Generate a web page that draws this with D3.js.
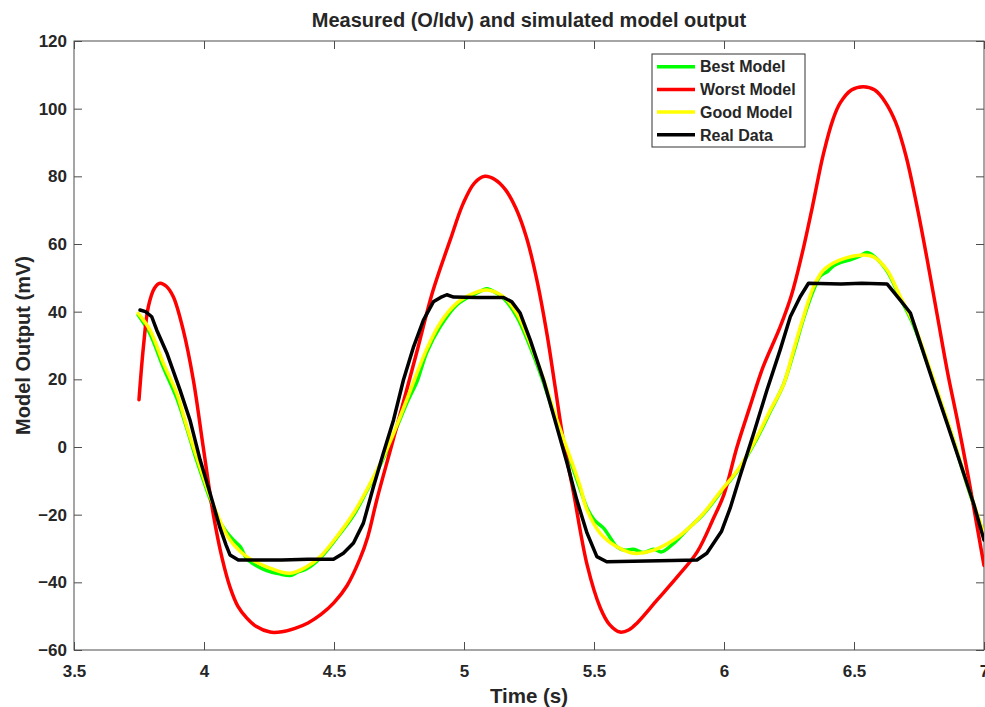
<!DOCTYPE html>
<html>
<head>
    <meta charset="utf-8">
    <script src="https://d3js.org/d3.v7.min.js"></script>
    <style>
        body { margin: 0; background: #fff; }
        text { font-family: "Liberation Sans", Arial, sans-serif; font-weight: bold; fill: #262626; }
    </style>
</head>
<body>
<div id="chart"></div>
<script>
    // series data (time in s, output in mV)
    const bestT = [3.747,3.792,3.844,3.895,3.934,3.972,4.01,4.049,4.085,4.113,4.14,4.164,4.2,4.241,4.29,4.331,4.36,4.395,4.447,4.511,4.575,4.626,4.677,4.729,4.78,4.82,4.835,4.857,4.908,4.972,5.036,5.088,5.1,5.152,5.203,5.255,5.306,5.357,5.408,5.447,5.473,5.5,5.537,5.56,5.588,5.62,5.652,5.69,5.729,5.76,5.806,5.857,5.921,5.986,6.062,6.127,6.178,6.229,6.268,6.306,6.345,6.37,6.4,6.42,6.447,6.49,6.524,6.55,6.575,6.627,6.678,6.729,6.78,6.832,6.883,6.934,6.986,7.0];
    const bestV = [39,33.5,23.5,14.5,5.5,-4,-12.5,-20.5,-25,-27.5,-29.5,-33,-35,-36.5,-37.5,-38,-37,-36,-32.8,-26.8,-20.2,-13,-5.5,3.5,13,19.5,23,28,35.5,42,45,46.8,46.5,44,38.5,29.5,19,7,-4,-12.5,-18,-21.5,-24,-26.5,-29.5,-30.5,-30.2,-31.2,-30.2,-31,-28.5,-24.5,-19.8,-13.5,-6,2.5,10.5,18.5,28,38,46.5,50.5,52,53.5,54.5,55.5,56.5,57.5,56.5,52,44,36,25.2,13.4,1.8,-11,-23,-26.5];

    const worstT = [3.75,3.767,3.786,3.81,3.831,3.855,3.882,3.92,3.959,3.997,4.036,4.07,4.1,4.13,4.164,4.2,4.254,4.3,4.35,4.4,4.45,4.5,4.55,4.6,4.63,4.665,4.72,4.78,4.82,4.88,4.947,4.997,5.04,5.08,5.12,5.16,5.2,5.24,5.28,5.32,5.35,5.382,5.42,5.474,5.524,5.56,5.6,5.635,5.666,5.743,5.82,5.897,5.96,6.0,6.05,6.1,6.15,6.216,6.26,6.3,6.34,6.382,6.42,6.447,6.49,6.536,6.58,6.62,6.66,6.7,6.74,6.78,6.82,6.86,6.9,6.94,6.97,7.0];
    const worstV = [14,29.6,41.5,47,48.4,47.5,44.4,34.6,19.8,0,-20,-33,-41.4,-47,-50.5,-53,-54.7,-54.6,-53.6,-52,-49.5,-46,-41,-33,-26.5,-15.5,0,17,28.5,46,61.2,72,78,80,79,76,70.5,62,49.5,33,18,2,-13,-35,-47.5,-52.5,-54.7,-54,-52,-45.2,-38.4,-31,-21,-14,0,12,23.6,35.5,45,57,71,86.5,97,101.7,105.5,106.5,105.5,102,96,86,72,56,39,22,7,-9,-22,-35];

    const goodT = [3.747,3.792,3.844,3.895,3.934,3.972,4.01,4.049,4.1,4.164,4.241,4.331,4.395,4.447,4.511,4.575,4.626,4.677,4.729,4.78,4.857,4.908,4.972,5.036,5.088,5.152,5.203,5.255,5.306,5.357,5.408,5.447,5.473,5.524,5.588,5.652,5.729,5.806,5.857,5.921,5.986,6.062,6.127,6.178,6.229,6.268,6.306,6.345,6.383,6.447,6.524,6.575,6.627,6.678,6.729,6.78,6.832,6.883,6.934,6.986,7.0];
    const goodV = [39.5,34.6,24.7,15.9,6,-3,-11.7,-19.6,-27.5,-32.4,-35.4,-37.3,-35.4,-32.4,-26.5,-19.6,-12.7,-5,4,14,29,36.6,42.5,45.4,46.4,44.4,39.5,30.6,20,8,-3,-11.7,-18.6,-25.5,-29.5,-31.4,-30.5,-27.5,-24.5,-19.6,-13.2,-5.8,3,10.9,18.5,28.7,38.5,47.4,52.3,55.3,56.7,56.2,52.3,44.4,36.6,25.7,13.9,2.1,-10.7,-22.6,-26];

    const realT = [3.754,3.775,3.799,3.818,3.857,3.908,3.946,3.985,4.023,4.062,4.085,4.1,4.132,4.3,4.4,4.498,4.536,4.575,4.613,4.652,4.69,4.729,4.767,4.806,4.844,4.882,4.91,4.934,4.96,5.05,5.152,5.184,5.216,5.255,5.306,5.357,5.396,5.434,5.473,5.511,5.549,5.7,5.85,5.896,5.934,5.99,6.024,6.062,6.114,6.165,6.216,6.255,6.293,6.325,6.45,6.53,6.627,6.678,6.717,6.755,6.806,6.858,6.909,6.96,7.0];
    const realV = [40.5,40,38.5,34.6,27.8,16.8,8,-3.8,-13.6,-24,-29,-31.9,-33.4,-33.4,-33.2,-33.2,-31.4,-28.4,-22.5,-11.7,-1.8,8,19.8,29.6,37.5,42.9,44.2,45,44.3,44.2,44.2,42.9,39.6,31.6,19.8,6,-4.7,-15.7,-25.4,-32.4,-33.9,-33.7,-33.5,-33.4,-31.4,-25,-18,-8.5,4,16.8,28.7,38.5,44.4,48.4,48.2,48.4,48.2,43.4,39.6,30.7,18.8,7,-4.8,-16.7,-27.5];

    const seriesNames = ['Best Model', 'Worst Model', 'Good Model', 'Real Data'];
    const seriesColors = ['#00ff00', '#ff0000', '#ffff00', '#000000'];
    const xTicks = [3.5, 4, 4.5, 5, 5.5, 6, 6.5, 7];
    const yTicks = [-60, -40, -20, 0, 20, 40, 60, 80, 100, 120];

    const width = 985;
    const height = 707;
    const margin = {top: 41, right: 1, bottom: 57, left: 74};

    const svg = d3.create('svg')
        .attr('width', width)
        .attr('height', height);

    const xScale = d3.scaleLinear()
        .domain([3.5, 7])
        .range([margin.left, width - margin.right]);

    const yScale = d3.scaleLinear()
        .domain([-60, 120])
        .range([height - margin.bottom, margin.top]);

    const series = [
        {t: bestT, v: bestV, smooth: true},
        {t: worstT, v: worstV, smooth: true},
        {t: goodT, v: goodV, smooth: true},
        {t: realT, v: realV, smooth: false}
    ];

    // axes, ticks inside the box on all four sides
    const styleAxis = g => {
        g.select('.domain').remove();
        g.selectAll('.tick line').attr('stroke', '#4d4d4d').attr('stroke-width', 1);
        g.selectAll('.tick text').attr('font-size', '17px').attr('fill', '#262626')
            .attr('font-family', '"Liberation Sans", Arial, sans-serif').attr('font-weight', 'bold');
    };

    svg.append('g')
        .attr('transform', `translate(0, ${height - margin.bottom})`)
        .call(d3.axisBottom(xScale).tickValues(xTicks).tickFormat(d3.format('')).tickSizeInner(-8).tickSizeOuter(0).tickPadding(15))
        .call(styleAxis);

    svg.append('g')
        .attr('transform', `translate(${margin.left}, 0)`)
        .call(d3.axisLeft(yScale).tickValues(yTicks).tickSizeInner(-8).tickSizeOuter(0).tickPadding(7))
        .call(styleAxis);

    svg.append('g')
        .attr('transform', `translate(0, ${margin.top})`)
        .call(d3.axisTop(xScale).tickValues(xTicks).tickFormat('').tickSizeInner(-8).tickSizeOuter(0))
        .call(styleAxis);

    svg.append('g')
        .attr('transform', `translate(${width - margin.right}, 0)`)
        .call(d3.axisRight(yScale).tickValues(yTicks).tickFormat('').tickSizeInner(-8).tickSizeOuter(0))
        .call(styleAxis);

    svg.append('rect')
        .attr('x', margin.left)
        .attr('y', margin.top)
        .attr('width', width - margin.left - margin.right)
        .attr('height', height - margin.top - margin.bottom)
        .attr('fill', 'none')
        .attr('stroke', '#4d4d4d')
        .attr('stroke-width', 1);

    svg.append('clipPath').attr('id', 'plot-clip')
        .append('rect')
        .attr('x', margin.left)
        .attr('y', margin.top)
        .attr('width', width - margin.left - margin.right)
        .attr('height', height - margin.top - margin.bottom);

    // lines, drawn in legend order so black ends on top
    const lineSmooth = d3.line()
        .x(d => xScale(d[0]))
        .y(d => yScale(d[1]))
        .curve(d3.curveCatmullRom.alpha(0.5));
    const lineRough = d3.line()
        .x(d => xScale(d[0]))
        .y(d => yScale(d[1]));

    svg.append('g')
        .attr('clip-path', 'url(#plot-clip)')
        .selectAll('path')
        .data(series)
        .join('path')
        .attr('d', s => (s.smooth ? lineSmooth : lineRough)(s.t.map((t, i) => [t, s.v[i]])))
        .attr('fill', 'none')
        .attr('stroke', (s, i) => seriesColors[i])
        .attr('stroke-width', 3.5)
        .attr('stroke-linejoin', 'round')
        .attr('stroke-linecap', 'round');

    // title and axis labels
    svg.append('text')
        .attr('x', (margin.left + width - margin.right) / 2)
        .attr('y', 27)
        .attr('text-anchor', 'middle')
        .attr('font-size', '20px')
        .attr('fill', '#000')
        .text('Measured (O/Idv) and simulated model output');

    svg.append('text')
        .attr('x', (margin.left + width - margin.right) / 2)
        .attr('y', 703)
        .attr('text-anchor', 'middle')
        .attr('font-size', '20.5px')
        .text('Time (s)');

    svg.append('text')
        .attr('transform', `translate(30, ${(margin.top + height - margin.bottom) / 2}) rotate(-90)`)
        .attr('text-anchor', 'middle')
        .attr('font-size', '20px')
        .text('Model Output (mV)');

    // legend
    const legend = svg.append('g').attr('transform', 'translate(652, 54)');
    legend.append('rect')
        .attr('width', 153)
        .attr('height', 93)
        .attr('fill', '#fff')
        .attr('stroke', '#333')
        .attr('stroke-width', 1);

    const rows = legend.selectAll('g.row')
        .data(seriesNames)
        .join('g')
        .attr('class', 'row')
        .attr('transform', (d, i) => `translate(0, ${12.7 + i * 22.7})`);

    rows.append('line')
        .attr('x1', 5).attr('x2', 43)
        .attr('stroke', (d, i) => seriesColors[i])
        .attr('stroke-width', 3.5);

    rows.append('text')
        .attr('x', 48)
        .attr('dy', '0.36em')
        .attr('font-size', '16px')
        .attr('fill', '#000')
        .text(d => d);

    document.getElementById('chart').appendChild(svg.node());
</script>
</body>
</html>
